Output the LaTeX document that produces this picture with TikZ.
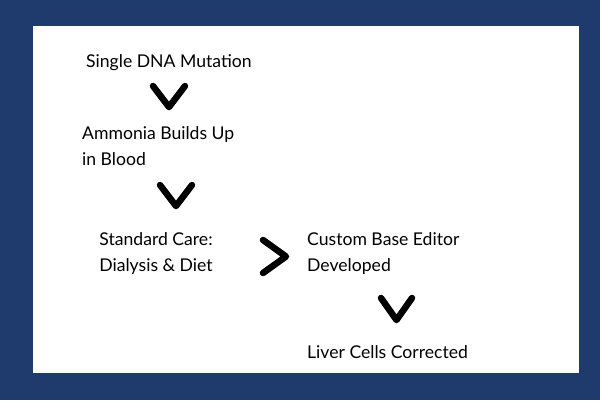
\documentclass[tikz,border=0pt]{standalone}
\usepackage{fontspec}
\setmainfont{Lato}
\definecolor{frameblue}{RGB}{31,58,108}
\tikzset{
  chev/.style={line width=6.5pt, line cap=round, line join=round},
  lbl/.style={inner sep=0pt, font=\fontsize{17.6}{25.5}\selectfont},
}
\begin{document}
\begin{tikzpicture}[x=1pt, y=-1pt]
        \fill[frameblue] (0,0) rectangle (600,400);
        \fill[white] (33,26) rectangle (579,373);

        \node[lbl, anchor=base west] (mut) at (86,67) {Single DNA Mutation};
        \draw[chev] (153,86) -- (169,107) -- (185,86);

        \node[lbl, anchor=base west, align=left] (amm) at (82,165) {Ammonia Builds Up\\in Blood};
        \draw[chev] (160,185) -- (176,206) -- (192,185);

        \node[lbl, anchor=base, align=center] (care) at (156,271) {Standard Care:\\Dialysis \& Diet};
        \draw[chev] (263,240) -- (286,256.5) -- (263,273);

        \node[lbl, anchor=base west, align=left] (edit) at (307,271) {Custom Base Editor\\Developed};
        \draw[chev] (381,298) -- (396.5,320) -- (412,298);

        \node[lbl, anchor=base west] (liver) at (307,358) {Liver Cells Corrected};
    \end{tikzpicture}
\end{document}
